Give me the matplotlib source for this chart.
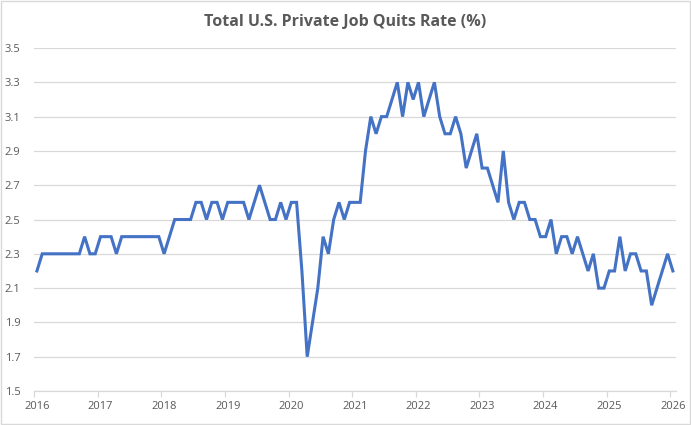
import numpy as np
import matplotlib.pyplot as plt
from matplotlib.patches import Rectangle

# monthly quits rate, Jan 2016 .. Jan 2026
quits_2016 = [2.2, 2.3, 2.3, 2.3, 2.3, 2.3, 2.3, 2.3, 2.3, 2.4, 2.3, 2.3]
quits_2017 = [2.4, 2.4, 2.4, 2.3, 2.4, 2.4, 2.4, 2.4, 2.4, 2.4, 2.4, 2.4]
quits_2018 = [2.3, 2.4, 2.5, 2.5, 2.5, 2.5, 2.6, 2.6, 2.5, 2.6, 2.6, 2.5]
quits_2019 = [2.6, 2.6, 2.6, 2.6, 2.5, 2.6, 2.7, 2.6, 2.5, 2.5, 2.6, 2.5]
quits_2020 = [2.6, 2.6, 2.2, 1.7, 1.9, 2.1, 2.4, 2.3, 2.5, 2.6, 2.5, 2.6]
quits_2021 = [2.6, 2.6, 2.9, 3.1, 3.0, 3.1, 3.1, 3.2, 3.3, 3.1, 3.3, 3.2]
quits_2022 = [3.3, 3.1, 3.2, 3.3, 3.1, 3.0, 3.0, 3.1, 3.0, 2.8, 2.9, 3.0]
quits_2023 = [2.8, 2.8, 2.7, 2.6, 2.9, 2.6, 2.5, 2.6, 2.6, 2.5, 2.5, 2.4]
quits_2024 = [2.4, 2.5, 2.3, 2.4, 2.4, 2.3, 2.4, 2.3, 2.2, 2.3, 2.1, 2.1]
quits_2025 = [2.2, 2.2, 2.4, 2.2, 2.3, 2.3, 2.2, 2.2, 2.0, 2.1, 2.2, 2.3]
quits_2026 = [2.2]

years = list(range(2016, 2027))
y_ticks = [1.5, 1.7, 1.9, 2.1, 2.3, 2.5, 2.7, 2.9, 3.1, 3.3, 3.5]

quits = (quits_2016 + quits_2017 + quits_2018 + quits_2019 + quits_2020 +
         quits_2021 + quits_2022 + quits_2023 + quits_2024 + quits_2025 +
         quits_2026)

plt.rcParams['font.family'] = ['Open Sans', 'DejaVu Sans']
text_grey = '#595959'
grid_grey = '#D9D9D9'

fig = plt.figure(figsize=(6.91, 4.25), dpi=100)
ax = fig.add_axes([0.0496, 0.08, 0.928, 0.807])

# each month sits in the middle of its slot, like an Excel date axis
x = np.arange(len(quits)) + 0.5
ax.plot(x, quits, color='#4472C4', linewidth=2.2, solid_joinstyle='miter')

ax.set_xlim(0, len(quits))
ax.set_ylim(1.5, 3.5)

ax.set_yticks(y_ticks)
ax.set_yticklabels([f'{v:.1f}' for v in y_ticks])
ax.yaxis.grid(True, color=grid_grey, linewidth=0.9)
ax.set_axisbelow(True)

# tick marks at the year boundaries, labels on the January slot
tick_pos = [12 * (yr - 2016) for yr in years]
ax.set_xticks(tick_pos)
ax.set_xticklabels([])
ax.set_xticks([p + 0.5 for p in tick_pos], minor=True)
ax.set_xticklabels([str(yr) for yr in years], minor=True)
ax.tick_params(axis='x', which='major', length=4, color=grid_grey, width=0.9)
ax.tick_params(axis='x', which='minor', length=0, pad=7, labelsize=8, labelcolor=text_grey)
ax.tick_params(axis='y', length=0, pad=10, labelsize=8, labelcolor=text_grey)

for side in ['top', 'right', 'left']:
    ax.spines[side].set_visible(False)
ax.spines['bottom'].set_color(grid_grey)
ax.spines['bottom'].set_linewidth(0.9)

fig.text(0.5, 0.949, 'Total U.S. Private Job Quits Rate (%)', ha='center', va='center',
         fontsize=11.5, fontweight='bold', color=text_grey)

# light chart border
fig.patches.append(Rectangle((0.001, 0.002), 0.997, 0.996, transform=fig.transFigure,
                             fill=False, edgecolor=grid_grey, linewidth=1))

fig.savefig('out.png', dpi=100)
